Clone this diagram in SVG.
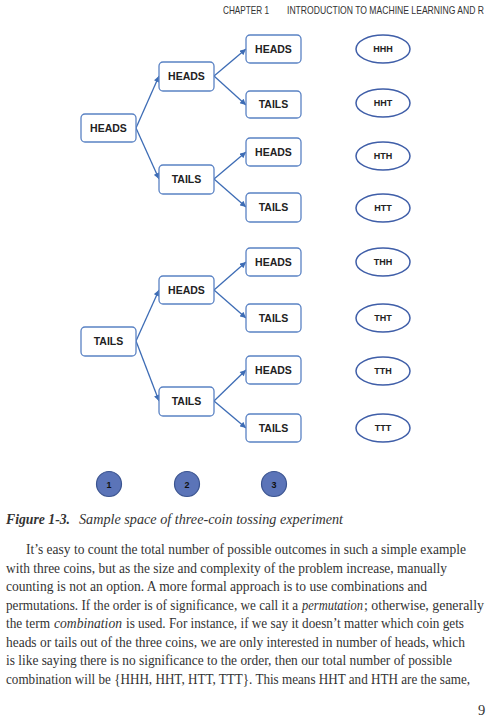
<svg xmlns="http://www.w3.org/2000/svg" width="501" height="720" viewBox="0 0 501 720">
<defs>
<style>
.box{fill:#fff;stroke:#5a82c4;stroke-width:1.3}
.bt{font-family:"Liberation Sans",Arial,sans-serif;font-weight:bold;font-size:10.5px;fill:#222;text-anchor:middle}
.ell{fill:#fff;stroke:#3f5ea8;stroke-width:1.5}
.et{font-family:"Liberation Sans",Arial,sans-serif;font-weight:bold;font-size:9px;fill:#222;text-anchor:middle}
.cir{fill:#5b74b8;stroke:#3b5490;stroke-width:1.2}
.ct{font-family:"Liberation Sans",Arial,sans-serif;font-weight:bold;font-size:9px;fill:#111;text-anchor:middle}
.con line{stroke:#3d6cb5;stroke-width:1.3;marker-end:url(#ah)}
.hd{font-family:"Liberation Sans",Arial,sans-serif;font-size:11px;fill:#333}
.body{font-family:"Liberation Serif","Times New Roman",serif;font-size:14.5px;fill:#333}
.it{font-style:italic}
</style>
<marker id="ah" viewBox="0 0 10 10" refX="10" refY="5" markerWidth="7" markerHeight="6" markerUnits="userSpaceOnUse" orient="auto">
<path d="M0,0 L10,5 L0,10 z" fill="#3d6cb5"/>
</marker>
</defs>
<rect width="501" height="720" fill="#fff"/>
<text class="hd" x="223" y="14" textLength="46" lengthAdjust="spacingAndGlyphs">CHAPTER 1</text>
<text class="hd" x="287" y="14" textLength="197" lengthAdjust="spacingAndGlyphs">INTRODUCTION TO MACHINE LEARNING AND R</text>

<g id="connectors" class="con">
<line x1="136" y1="128" x2="159" y2="76"/>
<line x1="136" y1="128" x2="159" y2="179"/>
<line x1="214" y1="76" x2="246" y2="49"/>
<line x1="214" y1="76" x2="246" y2="105"/>
<line x1="214" y1="179" x2="246" y2="152"/>
<line x1="214" y1="179" x2="246" y2="207"/>
<line x1="136" y1="341" x2="159" y2="290"/>
<line x1="136" y1="341" x2="159" y2="401"/>
<line x1="214" y1="290" x2="246" y2="262"/>
<line x1="214" y1="290" x2="246" y2="318"/>
<line x1="214" y1="401" x2="246" y2="370"/>
<line x1="214" y1="401" x2="246" y2="428"/>
</g>

<g id="n-h"><rect class="box" x="81" y="114" width="55" height="28" rx="4"/><text class="bt" x="108.5" y="131.5">HEADS</text></g>
<g id="n-hh"><rect class="box" x="159" y="62" width="55" height="29" rx="4"/><text class="bt" x="186.5" y="80">HEADS</text></g>
<g id="n-ht"><rect class="box" x="159" y="165" width="55" height="29" rx="4"/><text class="bt" x="186.5" y="183">TAILS</text></g>
<g id="n-hhh"><rect class="box" x="246" y="35" width="55" height="28" rx="4"/><text class="bt" x="273.5" y="52.5">HEADS</text></g>
<g id="n-hht"><rect class="box" x="246" y="91" width="55" height="27" rx="4"/><text class="bt" x="273.5" y="108">TAILS</text></g>
<g id="n-hth"><rect class="box" x="246" y="138" width="55" height="28" rx="4"/><text class="bt" x="273.5" y="155.5">HEADS</text></g>
<g id="n-htt"><rect class="box" x="246" y="193" width="55" height="29" rx="4"/><text class="bt" x="273.5" y="211">TAILS</text></g>

<g id="n-t"><rect class="box" x="81" y="327" width="55" height="29" rx="4"/><text class="bt" x="108.5" y="345">TAILS</text></g>
<g id="n-th"><rect class="box" x="159" y="276" width="55" height="28" rx="4"/><text class="bt" x="186.5" y="293.5">HEADS</text></g>
<g id="n-tt"><rect class="box" x="159" y="387" width="55" height="29" rx="4"/><text class="bt" x="186.5" y="405">TAILS</text></g>
<g id="n-thh"><rect class="box" x="246" y="248" width="55" height="28" rx="4"/><text class="bt" x="273.5" y="265.5">HEADS</text></g>
<g id="n-tht"><rect class="box" x="246" y="304" width="55" height="28" rx="4"/><text class="bt" x="273.5" y="321.5">TAILS</text></g>
<g id="n-tth"><rect class="box" x="246" y="356" width="55" height="28" rx="4"/><text class="bt" x="273.5" y="373.5">HEADS</text></g>
<g id="n-ttt"><rect class="box" x="246" y="414" width="55" height="28" rx="4"/><text class="bt" x="273.5" y="431.5">TAILS</text></g>

<g id="o-hhh"><ellipse class="ell" cx="383" cy="49" rx="27" ry="14"/><text class="et" x="383" y="52">HHH</text></g>
<g id="o-hht"><ellipse class="ell" cx="383" cy="103" rx="27" ry="14"/><text class="et" x="383" y="106">HHT</text></g>
<g id="o-hth"><ellipse class="ell" cx="383" cy="156" rx="27" ry="14"/><text class="et" x="383" y="159">HTH</text></g>
<g id="o-htt"><ellipse class="ell" cx="383" cy="208" rx="27" ry="14"/><text class="et" x="383" y="211">HTT</text></g>
<g id="o-thh"><ellipse class="ell" cx="383" cy="262" rx="27" ry="14"/><text class="et" x="383" y="265">THH</text></g>
<g id="o-tht"><ellipse class="ell" cx="383" cy="318" rx="27" ry="14"/><text class="et" x="383" y="321">THT</text></g>
<g id="o-tth"><ellipse class="ell" cx="383" cy="371" rx="27" ry="14"/><text class="et" x="383" y="374">TTH</text></g>
<g id="o-ttt"><ellipse class="ell" cx="383" cy="428" rx="27" ry="14"/><text class="et" x="383" y="431">TTT</text></g>

<g id="c1"><circle class="cir" cx="109" cy="484" r="12.5"/><text class="ct" x="109" y="487.5">1</text></g>
<g id="c2"><circle class="cir" cx="187" cy="484" r="12.5"/><text class="ct" x="187" y="487.5">2</text></g>
<g id="c3"><circle class="cir" cx="274" cy="484" r="12.5"/><text class="ct" x="274" y="487.5">3</text></g>

<text class="body" x="6" y="524" font-weight="bold" font-style="italic" textLength="64" lengthAdjust="spacingAndGlyphs">Figure 1-3.</text>
<text class="body it" x="79" y="524" textLength="264" lengthAdjust="spacingAndGlyphs">Sample space of three-coin tossing experiment</text>

<text class="body" x="26" y="554" textLength="440" lengthAdjust="spacingAndGlyphs">It’s easy to count the total number of possible outcomes in such a simple example</text>
<text class="body" x="6" y="573" textLength="441" lengthAdjust="spacingAndGlyphs">with three coins, but as the size and complexity of the problem increase, manually</text>
<text class="body" x="6" y="591" textLength="421" lengthAdjust="spacingAndGlyphs">counting is not an option. A more formal approach is to use combinations and</text>
<text class="body" x="6" y="610" textLength="292" lengthAdjust="spacingAndGlyphs">permutations. If the order is of significance, we call it a</text>
<text class="body it" x="302" y="610" textLength="61" lengthAdjust="spacingAndGlyphs">permutation</text>
<text class="body" x="364" y="610" textLength="120" lengthAdjust="spacingAndGlyphs">; otherwise, generally</text>
<text class="body" x="6" y="628" textLength="44" lengthAdjust="spacingAndGlyphs">the term</text>
<text class="body it" x="54" y="628" textLength="68" lengthAdjust="spacingAndGlyphs">combination</text>
<text class="body" x="126" y="628" textLength="338" lengthAdjust="spacingAndGlyphs">is used. For instance, if we say it doesn’t matter which coin gets</text>
<text class="body" x="6" y="647" textLength="459" lengthAdjust="spacingAndGlyphs">heads or tails out of the three coins, we are only interested in number of heads, which</text>
<text class="body" x="6" y="665" textLength="446" lengthAdjust="spacingAndGlyphs">is like saying there is no significance to the order, then our total number of possible</text>
<text class="body" x="6" y="684" textLength="464" lengthAdjust="spacingAndGlyphs">combination will be {HHH, HHT, HTT, TTT}. This means HHT and HTH are the same,</text>
<text class="body" x="478" y="715">9</text>
</svg>
